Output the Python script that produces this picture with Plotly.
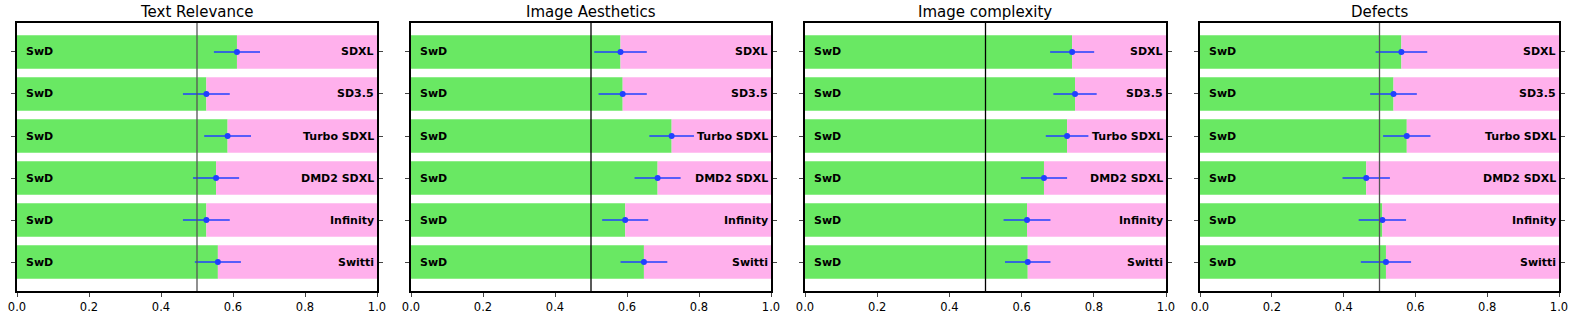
import plotly.graph_objects as go

titles = ["Text Relevance", "Image Aesthetics", "Image complexity", "Defects"]
models = ["SDXL", "SD3.5", "Turbo SDXL", "DMD2 SDXL", "Infinity", "Switti"]
baseline = "SwD"

text_relevance = [0.611, 0.526, 0.585, 0.553, 0.526, 0.558]
image_aesthetics = [0.582, 0.588, 0.724, 0.685, 0.595, 0.647]
image_complexity = [0.740, 0.748, 0.726, 0.662, 0.615, 0.617]
defects = [0.561, 0.539, 0.576, 0.463, 0.508, 0.518]

err_text = [0.064, 0.065, 0.065, 0.064, 0.065, 0.064]
err_aest = [0.073, 0.067, 0.062, 0.064, 0.064, 0.065]
err_compl = [0.061, 0.060, 0.059, 0.064, 0.065, 0.063]
err_def = [0.072, 0.065, 0.066, 0.066, 0.066, 0.070]

values = [text_relevance, image_aesthetics, image_complexity, defects]
errors = [err_text, err_aest, err_compl, err_def]

GREEN = "#69E863"
PINK = "#FFB0EC"
BLUE = "#2040FF"
W, H = 1577, 317
px_domains = [(17, 377), (411, 771), (805, 1166), (1200, 1559)]
ytop, ybot = 23, 291
vline_colors = ["#555555", "#000000", "#000000", "#555555"]

fig = go.Figure()
layout = dict(
    width=W, height=H, margin=dict(l=0, r=0, t=0, b=0, autoexpand=False),
    plot_bgcolor="white", paper_bgcolor="white", showlegend=False,
    font=dict(family="DejaVu Sans", color="black"),
    bargap=0.2, barmode="overlay",
)
annotations = []
shapes = []
ypos = list(range(len(models)))

for i, (vals, errs, title) in enumerate(zip(values, errors, titles)):
    sfx = "" if i == 0 else str(i + 1)
    xa, ya = "x" + sfx, "y" + sfx
    fig.add_trace(go.Bar(x=vals, y=ypos, orientation="h", marker_color=GREEN,
                         marker_line_width=0, width=0.8, xaxis=xa, yaxis=ya))
    fig.add_trace(go.Bar(x=[1 - v for v in vals], base=vals, y=ypos, orientation="h",
                         marker_color=PINK, marker_line_width=0, width=0.8, xaxis=xa, yaxis=ya))
    fig.add_trace(go.Scatter(x=vals, y=ypos, mode="markers", xaxis=xa, yaxis=ya,
                             marker=dict(color=BLUE, size=6),
                             error_x=dict(type="data", array=errs, color=BLUE,
                                          thickness=1.5, width=0)))
    d0, d1 = px_domains[i]
    layout["xaxis" + sfx] = dict(
        domain=[d0 / W, d1 / W], range=[0, 1], anchor=ya, automargin=False,
        tickvals=[0, 0.2, 0.4, 0.6, 0.8, 1.0], tickformat=".1f",
        ticks="outside", ticklen=4, tickwidth=1, showline=True, linecolor="black",
        linewidth=1.5, mirror=True, showgrid=False, zeroline=False,
        tickfont=dict(size=11.5, color="black"),
    )
    layout["yaxis" + sfx] = dict(
        domain=[1 - ybot / H, 1 - ytop / H], range=[5.69, -0.69], anchor=xa,
        automargin=False,
        tickvals=ypos, showticklabels=False, ticks="outside", ticklen=4, tickwidth=1,
        showline=True, linecolor="black", linewidth=1.5, mirror="ticks",
        showgrid=False, zeroline=False,
    )
    shapes.append(dict(type="line", xref=xa, yref=ya + " domain", x0=0.5, x1=0.5,
                       y0=0, y1=1, line=dict(color=vline_colors[i], width=1.3)))
    for y, m in zip(ypos, models):
        annotations.append(dict(x=0.02, y=y, xref=xa, yref=ya, text="<b>%s</b>" % baseline,
                                showarrow=False, xanchor="left", yanchor="middle",
                                font=dict(size=11, color="black")))
        annotations.append(dict(x=1.0, y=y, xref=xa, yref=ya, text="<b>%s</b>" % m,
                                showarrow=False, xanchor="right", yanchor="middle", xshift=-1,
                                font=dict(size=11, color="black")))
    annotations.append(dict(x=(d0 + d1) / 2 / W, y=1 - 12 / H, xref="paper", yref="paper",
                            text=title, showarrow=False, xanchor="center", yanchor="middle",
                            font=dict(size=15, color="black")))

layout["annotations"] = annotations
layout["shapes"] = shapes
fig.update_layout(**layout)
fig.write_html("out.html", config={"displayModeBar": False},
               post_script="document.body.style.margin='0';document.body.style.overflow='hidden';")
